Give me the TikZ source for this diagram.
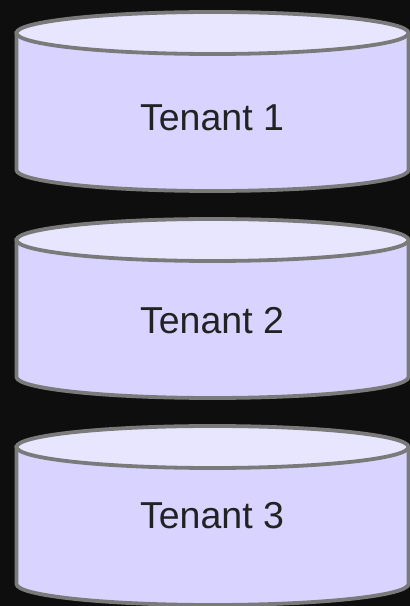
\documentclass[tikz,border=0pt]{standalone}
\usepackage{fontspec}
\setmainfont{Liberation Sans}
\usepackage{xcolor}
\definecolor{bgdark}{RGB}{14,14,14}
\definecolor{tenantside}{RGB}{217,212,255}
\definecolor{tenanttop}{RGB}{232,230,255}
\definecolor{tenantline}{RGB}{122,122,122}
\definecolor{tenanttext}{RGB}{34,34,34}
\tikzset{
  tenant body/.style={fill=tenantside,draw=tenantline,line width=3.8pt},
  tenant lid/.style={fill=tenanttop,draw=tenantline,line width=3.8pt},
  tenant label/.style={anchor=base,text=tenanttext,font=\fontsize{37.5}{44}\selectfont}
}

\begin{document}
\begin{tikzpicture}[x=1pt,y=1pt]
                    \fill[bgdark] (0,0) rectangle (410,606);
                    \useasboundingbox (0,0) rectangle (410,606);

                    % tenant 1
                    \filldraw[tenant body] (16.5,573) -- (16.5,436) arc[start angle=180,end angle=360,x radius=196,y radius=21] -- (408.5,573) -- cycle;
                    \filldraw[tenant lid] (212.5,573) ellipse[x radius=196,y radius=21];
                    \node[tenant label] (t1) at (212,475){Tenant 1};

                    % tenant 2
                    \filldraw[tenant body] (16.5,366) -- (16.5,229) arc[start angle=180,end angle=360,x radius=196,y radius=21] -- (408.5,366) -- cycle;
                    \filldraw[tenant lid] (212.5,366) ellipse[x radius=196,y radius=21];
                    \node[tenant label] (t2) at (212,272){Tenant 2};

                    % tenant 3
                    \filldraw[tenant body] (16.5,159) -- (16.5,22) arc[start angle=180,end angle=360,x radius=196,y radius=21] -- (408.5,159) -- cycle;
                    \filldraw[tenant lid] (212.5,159) ellipse[x radius=196,y radius=21];
                    \node[tenant label] (t3) at (212,77){Tenant 3};
\end{tikzpicture}
\end{document}
